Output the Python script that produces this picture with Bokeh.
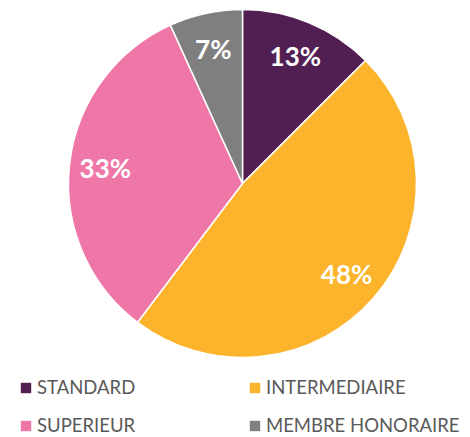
import math
from bokeh.plotting import figure
from bokeh.models import ColumnDataSource, Range1d, Legend, LegendItem
from bokeh.core.properties import value
from bokeh.embed import file_html
from bokeh.resources import INLINE

categories = ["STANDARD", "INTERMEDIAIRE", "SUPERIEUR", "MEMBRE HONORAIRE"]
shares = [12.5, 47.8, 32.9, 6.8]
pct_labels = ["13%", "48%", "33%", "7%"]
colors = ["#521F52", "#FBB42C", "#EF77A8", "#7F7F7F"]

W, H = 470, 437
cx, cy, R = 242, 254, 174
label_r = 138

total = sum(shares)
starts, ends, lx, ly = [], [], [], []
acc = 0.0
for s in shares:
    a0 = math.pi / 2 - 2 * math.pi * acc / total
    acc += s
    a1 = math.pi / 2 - 2 * math.pi * acc / total
    starts.append(a0)
    ends.append(a1)
    mid = (a0 + a1) / 2
    lx.append(cx + label_r * math.cos(mid))
    ly.append(cy + label_r * math.sin(mid))

nan = float("nan")
src = ColumnDataSource(dict(cat=categories, start=starts, end=ends,
                            color=colors, lx=lx, ly=ly, lab=pct_labels,
                            px=[nan] * 4, py=[nan] * 4))

p = figure(width=W, height=H, output_backend="svg", toolbar_location=None,
           x_range=Range1d(0, W), y_range=Range1d(0, H), min_border=0)
p.axis.visible = False
p.grid.visible = False
p.outline_line_color = None

p.wedge(x=cx, y=cy, radius=R, start_angle="start", end_angle="end",
        direction="clock", fill_color="color", line_color="white",
        line_width=1.5, source=src)

p.text(x="lx", y="ly", text="lab", source=src, text_color="white",
       text_font=value("Lato"), text_font_style="bold",
       text_font_size="26px", text_align="center", text_baseline="middle")

# legend proxy (no visible marks in the plot area)
proxy = p.rect(x="px", y="py", width=1, height=1, fill_color="color",
               line_color=None, source=src)

order = [0, 2, 1, 3]
items = [LegendItem(label=categories[i], renderers=[proxy], index=i) for i in order]
legend = Legend(items=items, ncols=2, location=(19, 1),
                glyph_width=13, glyph_height=13, label_standoff=5,
                label_width=195, label_height=20, spacing=16,
                padding=0, margin=0, border_line_color=None,
                background_fill_alpha=0,
                label_text_font="Lato", label_text_font_size="18.5px",
                label_text_color="#595959")
p.add_layout(legend, "center")

open("out.html", "w").write(file_html(p, INLINE))
